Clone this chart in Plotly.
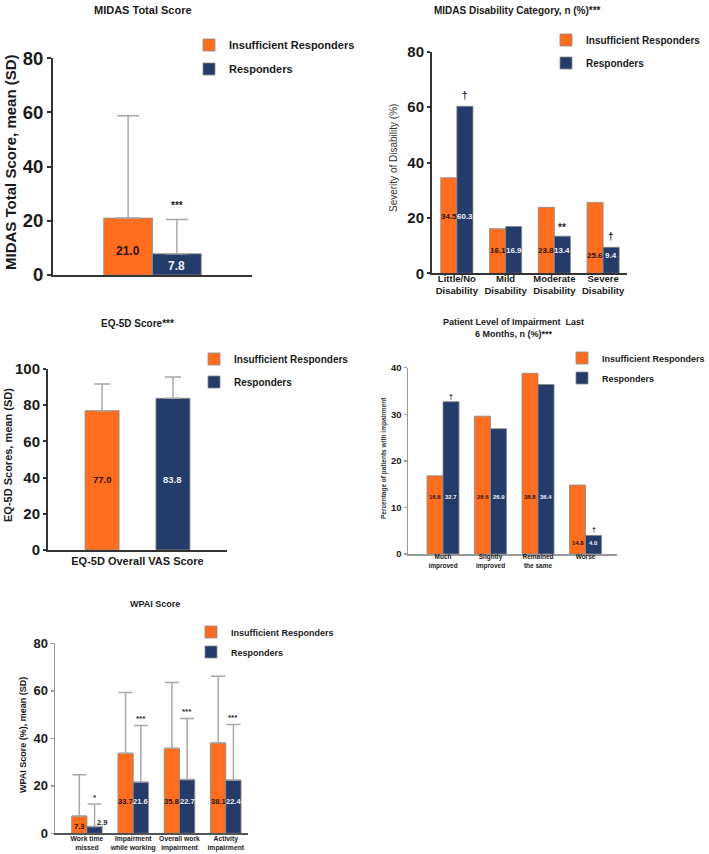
import plotly.graph_objects as go

W, H = 709, 854
ORANGE = "#FF6D1F"
NAVY = "#253B69"
FONT = "Liberation Sans, Arial, sans-serif"

# ---------------- data ----------------
series_names = ["Insufficient Responders", "Responders"]

p1_cats = ["MIDAS Total Score"]
p1_insuff = [21.0]
p1_insuff_sd = [37.8]
p1_resp = [7.8]
p1_resp_sd = [12.7]
p1_sig = ["***"]

p2_cats = ["Little/No<br>Disability", "Mild<br>Disability", "Moderate<br>Disability", "Severe<br>Disability"]
p2_insuff = [34.5, 16.1, 23.8, 25.6]
p2_resp = [60.3, 16.9, 13.4, 9.4]
p2_sig = ["†", "", "**", "†"]

p3_cats = ["EQ-5D Overall VAS Score"]
p3_insuff = [77.0]
p3_insuff_sd = [14.7]
p3_resp = [83.8]
p3_resp_sd = [11.8]
p3_sig = ["**"]

p4_cats = ["Much<br>improved", "Slightly<br>improved", "Remained<br>the same", "Worse"]
p4_insuff = [16.8, 29.6, 38.8, 14.8]
p4_resp = [32.7, 26.9, 36.4, 4.0]
p4_sig = ["†", "", "", "†"]

p5_cats = ["Work time<br>missed", "Impairment<br>while working", "Overall work<br>impairment", "Activity<br>impairment"]
p5_insuff = [7.3, 33.7, 35.8, 38.1]
p5_insuff_sd = [17.4, 25.6, 27.7, 28.0]
p5_resp = [2.9, 21.6, 22.7, 22.4]
p5_resp_sd = [9.4, 23.8, 25.6, 23.4]
p5_sig = ["*", "***", "***", "***"]


# ---------------- helpers ----------------
def dx(a, b):
    return [a / W, b / W]


def dy(top, bottom):
    return [1 - bottom / H, 1 - top / H]


def px(x):
    return x / W


def py(y):
    return 1 - y / H


fig = go.Figure()
annotations = []


def add_pair(idx, cats, v1, v2, w, off1, off2, sd1=None, sd2=None, capw=7, legend="legend"):
    xa = "x" if idx == 1 else f"x{idx}"
    ya = "y" if idx == 1 else f"y{idx}"
    for name, vals, sd, col, off, grp in [
        (series_names[0], v1, sd1, ORANGE, off1, f"g{idx}a"),
        (series_names[1], v2, sd2, NAVY, off2, f"g{idx}b"),
    ]:
        kw = {}
        if sd is not None:
            kw["error_y"] = dict(type="data", symmetric=False, array=sd,
                                 arrayminus=[0] * len(sd), color="#A8A8A8",
                                 thickness=1.5, width=capw)
        fig.add_trace(go.Bar(x=cats, y=vals, name=name, marker_color=col,
                             marker_line=dict(color="#8a8a8a", width=0.8),
                             width=w, offset=off, xaxis=xa, yaxis=ya,
                             legend=legend, legendgroup=grp, showlegend=True,
                             hoverinfo="skip", **kw))


def label(idx, x, y, text, size, color, yshift=0):
    xa = "x" if idx == 1 else f"x{idx}"
    ya = "y" if idx == 1 else f"y{idx}"
    annotations.append(dict(x=x, y=y, xref=xa, yref=ya, text=text, showarrow=False,
                            yshift=yshift,
                            font=dict(family=FONT, size=size, color=color, weight="bold")))


def ptext(x, y, text, size, bold=True, angle=0, color="#1a1a1a"):
    annotations.append(dict(x=px(x), y=py(y), xref="paper", yref="paper", text=text,
                            showarrow=False, textangle=angle, xanchor="center", yanchor="middle",
                            font=dict(family=FONT, size=size, color=color,
                                      weight="bold" if bold else "normal")))


DARK_LAB = "#2a1205"
LIGHT_LAB = "#EEF0F5"

# ---------------- panel 1 ----------------
w1 = 0.245
add_pair(1, p1_cats, p1_insuff, p1_resp, w1, -w1, 0, p1_insuff_sd, p1_resp_sd, capw=11, legend="legend")
label(1, -w1 / 2, 9.0, f"{p1_insuff[0]:.1f}", 12, DARK_LAB)
label(1, w1 / 2, 3.3, f"{p1_resp[0]:.1f}", 12, LIGHT_LAB)
label(1, w1 / 2, p1_resp[0] + p1_resp_sd[0] + 6.4, p1_sig[0], 10, "#222", yshift=-3)

# ---------------- panel 2 ----------------
w2 = 0.33
add_pair(2, p2_cats, p2_insuff, p2_resp, w2, -w2, 0, legend="legend2")
p2_lab_y = [20.4, 8.2, 8.2, 6.4]
for i in range(4):
    label(2, i - w2 / 2, p2_lab_y[i], f"{p2_insuff[i]:.1f}", 8, DARK_LAB)
    label(2, i + w2 / 2, p2_lab_y[i], f"{p2_resp[i]:.1f}", 8, LIGHT_LAB)
    if p2_sig[i]:
        ys = -2 if "*" in p2_sig[i] else 0
        label(2, i + w2 / 2, p2_resp[i] + 3.8, p2_sig[i], 10, "#222", yshift=ys)

# ---------------- panel 3 ----------------
w3 = 0.19
add_pair(3, p3_cats, p3_insuff, p3_resp, w3, -0.293, 0.103, p3_insuff_sd, p3_resp_sd, capw=8, legend="legend3")
label(3, -0.293 + w3 / 2, 38.7, f"{p3_insuff[0]:.1f}", 9.5, DARK_LAB)
label(3, 0.103 + w3 / 2, 38.7, f"{p3_resp[0]:.1f}", 9.5, LIGHT_LAB)
label(3, 0.103 + w3 / 2, p3_resp[0] + p3_resp_sd[0] + 7.5, p3_sig[0], 9, "#333", yshift=-2)

# ---------------- panel 4 ----------------
w4 = 0.337
add_pair(4, p4_cats, p4_insuff, p4_resp, w4, -w4, 0, legend="legend4")
p4_lab_y = [12.3, 12.3, 12.3, 2.3]
for i in range(4):
    label(4, i - w4 / 2, p4_lab_y[i], f"{p4_insuff[i]:.1f}", 6, DARK_LAB)
    label(4, i + w4 / 2, p4_lab_y[i], f"{p4_resp[i]:.1f}", 6, LIGHT_LAB)
    if p4_sig[i]:
        label(4, i + w4 / 2, p4_resp[i] + 1.2, p4_sig[i], 7, "#222")

# ---------------- panel 5 ----------------
w5 = 0.33
add_pair(5, p5_cats, p5_insuff, p5_resp, w5, -w5, 0, p5_insuff_sd, p5_resp_sd, capw=7, legend="legend5")
p5_lab_y = [2.7, 13.4, 13.4, 13.4]
for i in range(4):
    label(5, i - w5 / 2, p5_lab_y[i], f"{p5_insuff[i]:.1f}", 7.5, DARK_LAB)
    if i == 0:
        label(5, i + 0.335, 4.7, f"{p5_resp[i]:.1f}", 7.5, "#1a1a1a")
    else:
        label(5, i + w5 / 2, p5_lab_y[i], f"{p5_resp[i]:.1f}", 7.5, LIGHT_LAB)
    label(5, i + w5 / 2, p5_resp[i] + p5_resp_sd[i] + 3.8, p5_sig[i], 8, "#222", yshift=-2)

# ---------------- titles ----------------
ptext(143, 10, "MIDAS Total Score", 11)
ptext(517, 10, "MIDAS Disability Category, n (%)***", 10)
ptext(137, 323, "EQ-5D Score***", 10)
ptext(513, 328, "Patient Level of Impairment  Last<br>6 Months, n (%)***", 9)
ptext(155, 604, "WPAI Score", 9)

# y-axis titles
ptext(10, 162, "MIDAS Total Score, mean (SD)", 15, angle=-90)
ptext(393, 158, "Severity of Disability (%)", 10, bold=False, angle=-90, color="#333")
ptext(8, 455, "EQ-5D Scores, mean (SD)", 11, angle=-90)
ptext(384, 458, "Percentage of patients with impairment", 6.5, angle=-90, color="#333")
ptext(23, 735, "WPAI Score (%), mean (SD)", 9, angle=-90)


# ---------------- axes ----------------
def yax(domain, rng, dtick, fs, lc="#333", lw=2, tl=4):
    return dict(domain=domain, range=rng, dtick=dtick, tick0=0, showgrid=False, zeroline=False,
                showline=True, linecolor=lc, linewidth=lw, ticks="outside", ticklen=tl,
                tickwidth=lw, tickcolor=lc, fixedrange=True, automargin=False,
                tickfont=dict(family=FONT, size=fs, color="#1a1a1a", weight="bold"))


def xax(domain, rng, anchor, fs=None, lc="#333", lw=2, standoff=0):
    d = dict(domain=domain, range=rng, anchor=anchor, showgrid=False, zeroline=False,
             showline=True, linecolor=lc, linewidth=lw, ticks="", type="category",
             fixedrange=True, automargin=False, ticklabelstandoff=standoff)
    if fs is None:
        d["showticklabels"] = False
    else:
        d["tickfont"] = dict(family=FONT, size=fs, color="#1a1a1a", weight="bold")
    return d


layout = dict(
    width=W, height=H, autosize=False,
    margin=dict(l=0, r=0, t=0, b=0, pad=0, autoexpand=False),
    paper_bgcolor="white", plot_bgcolor="white", barmode="overlay",
    showlegend=True, annotations=annotations, hovermode=False,
    xaxis=xax(dx(53, 252), [-0.5, 0.5], "y"),
    yaxis=yax(dy(58.3, 275), [0, 80], 20, 18.5, tl=4) | dict(anchor="x"),
    xaxis2=xax(dx(432, 627), [-0.51, 3.49], "y2", fs=9.5, standoff=-5),
    yaxis2=yax(dy(51.7, 273.3), [0, 80], 20, 15, tl=3) | dict(anchor="x2"),
    xaxis3=xax(dx(48, 227), [-0.5, 0.5], "y3", fs=11),
    yaxis3=yax(dy(369, 550), [0, 100], 20, 15, tl=3) | dict(anchor="x3"),
    xaxis4=xax(dx(408, 617), [-0.737, 3.663], "y4", fs=6.5, lc="#999", lw=1.5, standoff=-4),
    yaxis4=yax(dy(367.7, 554), [0, 40], 10, 9.5, lc="#999", lw=1.5, tl=3) | dict(anchor="x4"),
    xaxis5=xax(dx(55, 248), [-0.69, 3.48], "y5", fs=6.8, lc="#555", lw=1.5, standoff=-2),
    yaxis5=yax(dy(643.3, 833.3), [0, 80], 20, 13, lc="#999", lw=1.5, tl=3) | dict(anchor="x5"),
)


def leg(text_x, first_y, fs, gap):
    return dict(x=px(text_x - 41), y=py(first_y - 14.5), xanchor="left", yanchor="top",
                xref="paper", yref="paper", traceorder="grouped", tracegroupgap=gap,
                bgcolor="rgba(0,0,0,0)",
                font=dict(family=FONT, size=fs, color="#1a1a1a", weight="bold"))


layout["legend"] = leg(230, 45, 11, 5)
layout["legend2"] = leg(587, 40, 10, 4)
layout["legend3"] = leg(235, 359, 10, 4)
layout["legend4"] = leg(603, 358, 9, 1)
layout["legend5"] = leg(232, 632, 9, 1)

fig.update_layout(**layout)
fig.write_html("out.html", config={"displayModeBar": False, "staticPlot": True},
               post_script="document.body.style.margin='0';document.body.style.overflow='hidden';")
